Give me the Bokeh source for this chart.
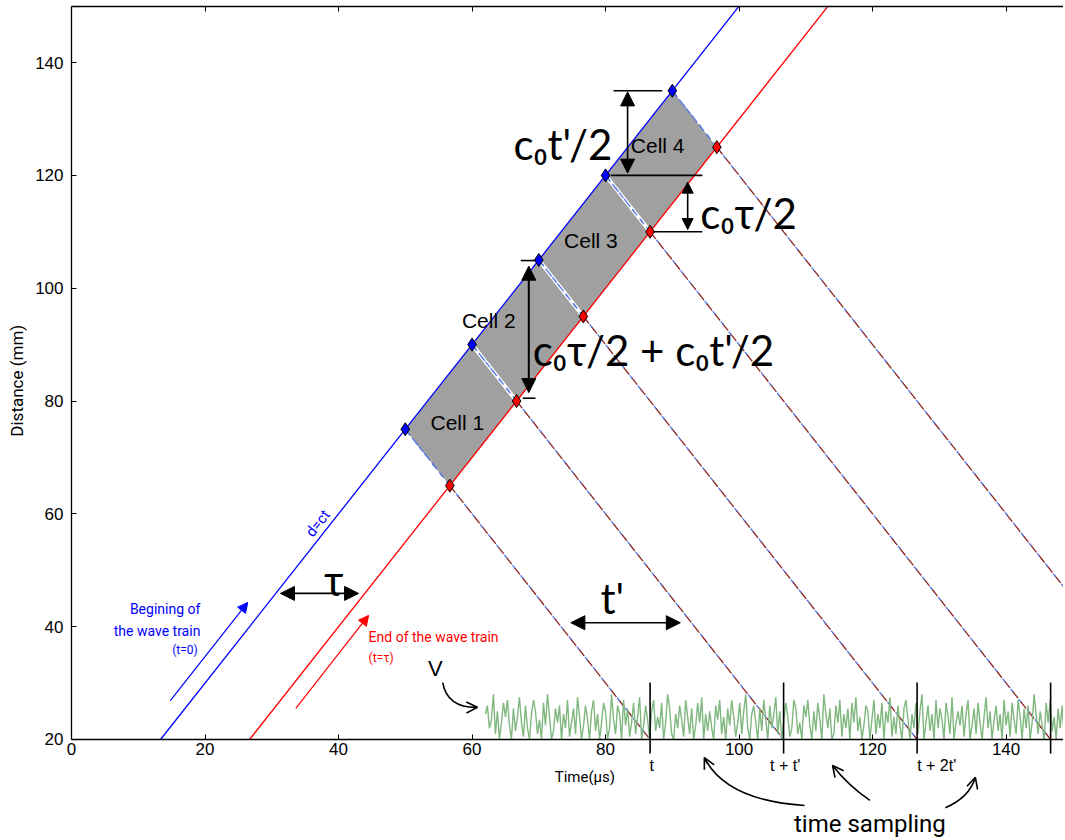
import numpy as np
from bokeh.plotting import figure
from bokeh.models import Range1d, FixedTicker, LinearAxis, Arrow, NormalHead, OpenHead
from bokeh.core.properties import value
from bokeh.embed import file_html
from bokeh.resources import INLINE

# ---------------- data ----------------
x_ticks = [0, 20, 40, 60, 80, 100, 120, 140]
y_ticks = [20, 40, 60, 80, 100, 120, 140]

front_t = [13.33, 100.0]      # beginning of wave train  d = c t
front_d = [20.0, 150.0]
back_t = [26.67, 113.33]      # end of wave train  d = c (t - tau)
back_d = [20.0, 150.0]

blue_t = [50.0, 60.0, 70.0, 80.0, 90.0]
blue_d = [75.0, 90.0, 105.0, 120.0, 135.0]
red_t = [56.67, 66.67, 76.67, 86.67, 96.67]
red_d = [65.0, 80.0, 95.0, 110.0, 125.0]
c_speed = 1.5
d_floor = 20.0

cell_names = ["Cell 1", "Cell 2", "Cell 3", "Cell 4"]
cell_t = [57.8, 62.5, 77.8, 87.8]
cell_d = [76.2, 94.3, 108.5, 125.3]

sample_t = [86.67, 106.67, 126.67, 146.67]
sample_names = ["t", "t + t'", "t + 2t'"]
sample_label_t = [86.9, 106.9, 129.6]

noise_t0 = 62.0
noise_dt = 0.3
noise_v = [
    24.5, 26.0, 22.0, 23.5, 28.0, 21.0, 25.0, 20.0, 23.0, 26.5, 24.0, 27.0, 22.5, 20.0, 25.5, 21.5, 24.0, 27.5, 23.0, 20.5,
    26.0, 22.0, 20.0, 24.5, 27.0, 25.0, 21.0, 23.5, 20.0, 26.5, 22.5, 28.0, 24.0, 20.0, 21.5, 25.5, 23.0, 26.0, 20.0, 24.5,
    22.0, 27.0, 20.5, 23.0, 25.5, 21.0, 27.5, 24.0, 20.0, 22.5, 26.0, 23.5, 20.0, 25.0, 27.0, 21.5, 24.5, 20.0, 23.0, 26.5,
    25.0, 20.0, 22.0, 28.0, 23.5, 21.0, 26.0, 24.5, 20.0, 27.0, 22.5, 25.5, 20.5, 23.0, 26.5, 21.0, 24.0, 27.5, 20.0, 22.5,
    26.0, 23.5, 20.0, 25.0, 27.0, 21.5, 24.0, 22.0, 26.5, 20.0, 23.0, 28.0, 25.5, 21.0, 20.0, 24.5, 22.0, 26.0, 23.5, 20.5,
    27.0, 24.0, 21.0, 25.5, 20.0, 22.5, 26.5, 23.0, 27.5, 20.0, 24.5, 21.5, 25.0, 22.0, 20.0, 26.0, 23.5, 27.0, 21.0, 24.0,
    20.0, 25.5, 22.5, 27.0, 24.0, 20.5, 23.0, 26.5, 21.0, 25.0, 28.0, 22.0, 20.0, 24.5, 26.0, 23.0, 20.0, 25.5, 21.5, 27.0,
    23.5, 20.0, 26.0, 22.0, 24.5, 27.5, 21.0, 25.0, 20.0, 23.5, 26.5, 24.0, 20.5, 22.0, 27.0, 25.5, 21.0, 23.0, 20.0, 26.0,
    24.0, 27.0, 22.5, 20.0, 25.0, 21.5, 26.5, 23.5, 20.0, 28.0, 24.5, 22.0, 25.5, 20.0, 21.0, 26.0, 23.0, 27.0, 20.5, 24.5,
    22.0, 25.5, 20.0, 26.5, 23.0, 27.5, 21.5, 24.0, 20.0, 22.5, 26.0, 25.0, 20.0, 23.5, 27.0, 21.0, 24.5, 22.0, 26.5, 20.0,
    25.0, 23.0, 27.5, 20.5, 24.0, 21.0, 26.0, 22.5, 20.0, 25.5, 27.0, 23.5, 20.0, 24.5, 22.0, 26.5, 21.0, 25.0, 28.0, 20.0,
    23.0, 26.0, 21.5, 24.5, 20.0, 27.0, 22.0, 25.5, 23.5, 20.0, 26.5, 24.0, 21.0, 27.5, 20.0, 23.0, 25.0, 22.5, 26.0, 20.5,
    24.5, 27.0, 20.0, 22.5, 25.5, 21.0, 26.5, 23.0, 20.0, 24.0, 27.5, 22.0, 25.0, 20.0, 23.5, 26.0, 21.5, 24.5, 20.0, 27.0,
    22.5, 25.0, 20.5, 26.5, 23.5, 21.0, 27.0, 24.0, 20.0, 25.5, 22.0, 26.0, 20.0, 23.0, 28.0, 24.5, 21.0, 25.0, 22.5, 20.0,
    26.5, 23.0, 27.0, 21.5, 24.0, 20.0, 25.5, 22.0, 26.0, 20.5, 23.5, 27.5, 24.5, 21.0, 25.0, 20.0, 22.5, 26.5, 23.0, 24.0,
]

# ---------------- styles ----------------
SANS = "Liberation Sans"
NARROW = "Roboto"
BIG = "Lato"
BLUE = "#0000ff"
RED = "#ff0000"
GRAY = "#a0a0a0"
GREEN = "#80b880"
DASH_RED = "#8b2323"
DASH_BLUE = "#5577e6"

p = figure(width=1063, height=838, x_range=Range1d(-10.64, 148.6), y_range=Range1d(2.45, 151.0),
           output_backend="svg", toolbar_location=None,
           x_axis_location=None, y_axis_location=None,
           min_border_left=0, min_border_right=0, min_border_top=0, min_border_bottom=0)
p.outline_line_color = None
p.background_fill_color = "white"
p.border_fill_color = "white"
p.grid.grid_line_color = None

# axes
xaxis = LinearAxis(fixed_location=20, bounds=(0, 150), ticker=FixedTicker(ticks=x_ticks))
xaxis.major_tick_in = 5
xaxis.major_tick_out = 0
xaxis.minor_tick_line_color = None
xaxis.major_label_standoff = 4
xaxis.major_label_text_font = SANS
xaxis.major_label_text_font_size = "17px"
xaxis.major_label_text_color = "black"
xaxis.axis_line_width = 1.3
p.add_layout(xaxis, "below")

yaxis = LinearAxis(fixed_location=0, bounds=(20, 150), ticker=FixedTicker(ticks=y_ticks))
yaxis.major_tick_in = 5
yaxis.major_tick_out = 0
yaxis.minor_tick_line_color = None
yaxis.major_label_standoff = 8
yaxis.major_label_text_font = SANS
yaxis.major_label_text_font_size = "17px"
yaxis.major_label_text_color = "black"
yaxis.axis_line_width = 1.3
p.add_layout(yaxis, "left")

topaxis = LinearAxis(fixed_location=150, bounds=(0, 150), ticker=FixedTicker(ticks=x_ticks))
topaxis.major_tick_in = 5
topaxis.major_tick_out = 0
topaxis.minor_tick_line_color = None
topaxis.major_label_text_color = None
topaxis.major_label_text_font_size = "1px"
topaxis.axis_line_width = 1.3
p.add_layout(topaxis, "above")

p.text(x=[-8.2], y=[83.6], text=["Distance (mm)"], angle=np.pi / 2,
       text_align="center", text_baseline="middle",
       text_font=value(NARROW), text_font_size=value("17px"), text_color="black")

# cells
cell_xs, cell_ys = [], []
for k in range(4):
    cell_xs.append([blue_t[k], blue_t[k + 1], red_t[k + 1], red_t[k]])
    cell_ys.append([blue_d[k], blue_d[k + 1], red_d[k + 1], red_d[k]])
p.patches(cell_xs, cell_ys, fill_color=GRAY, line_color=None)

# white separations between cells
p.segment(x0=blue_t[1:4], y0=blue_d[1:4], x1=red_t[1:4], y1=red_d[1:4], line_color="white", line_width=4)

# dashed characteristic lines down to the axis
end_blue = [t + (d - d_floor) / c_speed for t, d in zip(blue_t, blue_d)]
end_red = [t + (d - d_floor) / c_speed for t, d in zip(red_t, red_d)]
p.segment(x0=red_t, y0=red_d, x1=end_red, y1=[d_floor] * 5, line_color=DASH_RED,
          line_width=1.3, line_dash="9 4")
p.segment(x0=blue_t, y0=blue_d, x1=end_blue, y1=[d_floor] * 5, line_color=DASH_BLUE,
          line_width=1.3, line_dash="4 9", line_dash_offset=9)
p.segment(x0=blue_t, y0=blue_d, x1=red_t, y1=red_d, line_color=DASH_BLUE,
          line_width=1.3, line_dash="7 4")

# wave fronts
p.line(front_t, front_d, line_color=BLUE, line_width=1.3)
p.line(back_t, back_d, line_color=RED, line_width=1.3)

# noise signal
noise_t = [noise_t0 + i * noise_dt for i in range(len(noise_v))]
p.line(noise_t, noise_v, line_color=GREEN, line_width=1.4)

# sampling lines
p.segment(x0=sample_t, y0=[17.5] * 4, x1=sample_t, y1=[30.1] * 4, line_color="black", line_width=1.6)

# markers
p.scatter(blue_t, blue_d, marker="diamond", size=13, fill_color=BLUE, line_color="black", line_width=1)
p.scatter(red_t, red_d, marker="diamond", size=13, fill_color=RED, line_color="black", line_width=1)

# measurement guide lines
p.segment(x0=[81.2, 80.8, 87.2, 67.3, 67.6], y0=[135, 120, 110, 104.9, 80.5],
          x1=[88.5, 94.5, 94.5, 69.5, 69.5], y1=[135, 120, 110, 104.9, 80.5],
          line_color="black", line_width=1.6)

def dbl(x0, y0, x1, y1, size=14, lw=1.6):
    p.add_layout(Arrow(x_start=x0, y_start=y0, x_end=x1, y_end=y1,
                       start=NormalHead(size=size, fill_color="black", line_color="black"),
                       end=NormalHead(size=size, fill_color="black", line_color="black"),
                       line_color="black", line_width=lw))

dbl(31.3, 45.9, 43.0, 45.9)
dbl(74.8, 40.7, 91.2, 40.7)
dbl(83.3, 134.8, 83.3, 120.4)
dbl(92.3, 118.8, 92.3, 110.4, size=11)
dbl(68.5, 103.9, 68.5, 81.5, lw=2)

# small direction arrows
p.add_layout(Arrow(x_start=14.8, y_start=26.9, x_end=26.4, y_end=44.3,
                   end=NormalHead(size=10, fill_color=BLUE, line_color=BLUE),
                   line_color=BLUE, line_width=1.2))
p.add_layout(Arrow(x_start=33.6, y_start=25.5, x_end=44.5, y_end=42.0,
                   end=NormalHead(size=10, fill_color=RED, line_color=RED),
                   line_color=RED, line_width=1.2))

# curved arrows
cx0 = [109.8, 119.6, 130.9, 55.6]
cy0 = [8.3, 9.2, 7.9, 30.1]
cx1 = [94.8, 114.0, 135.4, 60.8]
cy1 = [16.8, 15.4, 13.3, 25.7]
ccx = [98.0, 116.4, 134.5, 56.3]
ccy = [9.2, 11.8, 9.7, 25.6]
p.quadratic(x0=cx0, y0=cy0, x1=cx1, y1=cy1, cx=ccx, cy=ccy, line_color="black", line_width=1.6)
for a, b, c, d in zip(cx1, cy1, ccx, ccy):
    p.add_layout(Arrow(x_start=a - 0.15 * (a - c), y_start=b - 0.15 * (b - d), x_end=a, y_end=b,
                       end=OpenHead(size=11, line_color="black", line_width=1.6),
                       line_color="black", line_width=1.6))

# texts
p.text(x=cell_t, y=cell_d, text=cell_names, text_font=value(SANS), text_font_size=value("21px"),
       text_align="center", text_baseline="middle", text_color="black")

p.text(x=[66.2, 94.2, 69.1], y=[125.5, 113.3, 89.0],
       text=["c\u2080t'/2", "c\u2080\u03c4/2", "c\u2080\u03c4/2 + c\u2080t'/2"],
       text_font=value(BIG), text_font_size=value("42px"), text_align="left",
       text_baseline="alphabetic", text_color="black")

p.text(x=[39.3, 81.0], y=[48.2, 45.0], text=["\u03c4", "t'"], text_font=value(BIG),
       text_font_size=value("42px"), text_align="center", text_baseline="alphabetic", text_color="black")

p.text(x=[36.9], y=[58.3], text=["d=ct"], angle=0.902, text_font=value(NARROW),
       text_font_size=value("15px"), text_align="center", text_baseline="middle", text_color=BLUE)

p.text(x=[19.3, 19.3], y=[43.2, 39.3], text=["Begining of", "the wave train"], text_font=value(NARROW),
       text_font_size=value("14px"), text_align="right", text_baseline="middle", text_color=BLUE)
p.text(x=[18.9], y=[35.8], text=["(t=0)"], text_font=value(NARROW),
       text_font_size=value("12px"), text_align="right", text_baseline="middle", text_color=BLUE)
p.text(x=[44.5], y=[38.1], text=["End of the wave train"], text_font=value(NARROW),
       text_font_size=value("14px"), text_align="left", text_baseline="middle", text_color=RED)
p.text(x=[44.5], y=[34.4], text=["(t=\u03c4)"], text_font=value(NARROW),
       text_font_size=value("12px"), text_align="left", text_baseline="middle", text_color=RED)

p.text(x=[54.5], y=[32.6], text=["V"], text_font=value(SANS), text_font_size=value("22px"),
       text_align="center", text_baseline="middle", text_color="black")

p.text(x=sample_label_t, y=[15.4] * 3, text=sample_names, text_font=value(SANS),
       text_font_size=value("16px"), text_align="center", text_baseline="middle", text_color="black")
p.text(x=[76.9], y=[13.3], text=["Time(\u03bcs)"], text_font=value(NARROW),
       text_font_size=value("15px"), text_align="center", text_baseline="middle", text_color="black")
p.text(x=[119.6], y=[5.1], text=["time sampling"], text_font=value(NARROW),
       text_font_size=value("24px"), text_align="center", text_baseline="middle", text_color="black")

open("out.html", "w").write(file_html(p, INLINE))
